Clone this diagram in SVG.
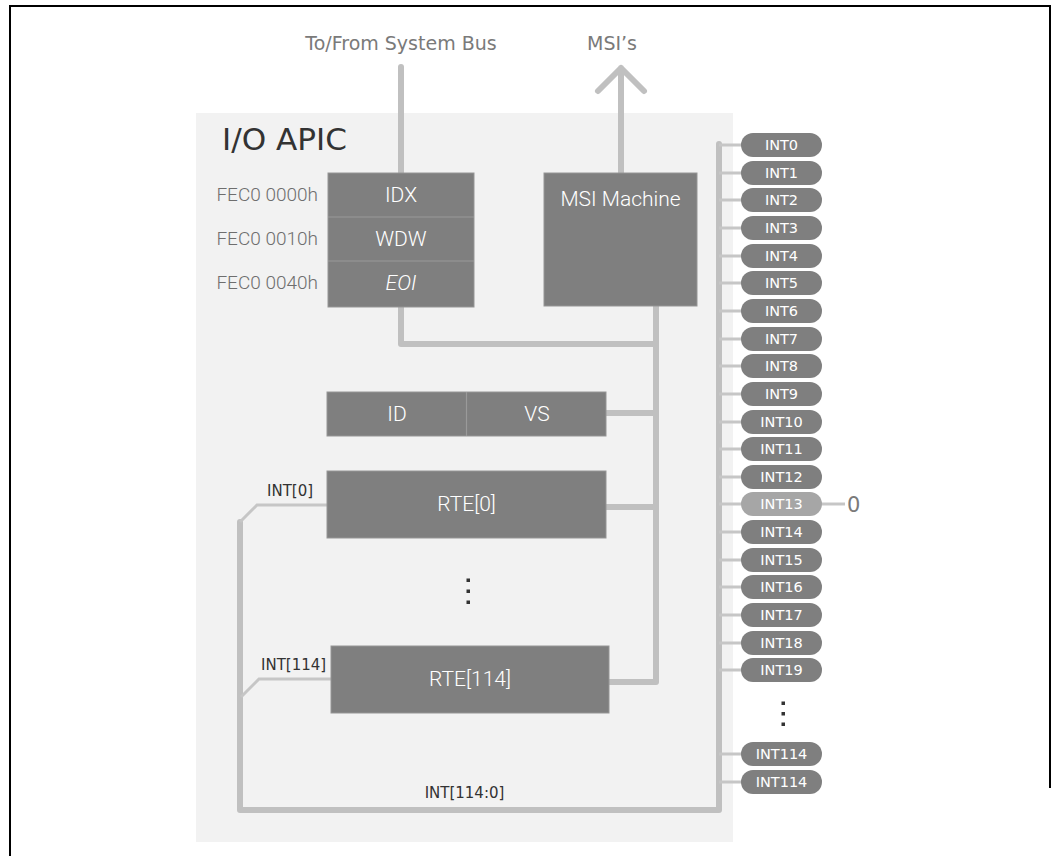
<svg xmlns="http://www.w3.org/2000/svg" width="1060" height="856" viewBox="0 0 1060 856">
<style>
.box{fill:#7f7f7f;stroke:#969696;stroke-width:1}
.sep{stroke:#9a9a9a;stroke-width:1.2}
.bt{font-family:Roboto,"Liberation Sans",sans-serif;font-weight:300;font-size:21px;fill:#ffffff;text-anchor:middle}
.addr{font-family:Roboto,"Liberation Sans",sans-serif;font-weight:300;font-size:19px;fill:#6e6e6e;text-anchor:end}
.lbl{font-family:"DejaVu Sans",Verdana,sans-serif;font-size:15px;fill:#333333}
.top{font-family:"DejaVu Sans",Verdana,sans-serif;font-size:19px;fill:#7a7a7a;text-anchor:middle}
.pill{fill:#7f7f7f}
.pt{font-family:"DejaVu Sans",Verdana,sans-serif;font-size:14.5px;fill:#ffffff;text-anchor:middle}
.thick{fill:none;stroke:#c0c0c0;stroke-width:6;stroke-linecap:round;stroke-linejoin:round}
.thin{fill:none;stroke:#c6c6c6;stroke-width:3}
.dot{fill:#333333}
</style>
<rect x="0" y="0" width="1060" height="856" fill="#ffffff"/>
<g id="frame" fill="none" stroke="#000000" stroke-width="2">
<path d="M10 856 V6 H1050 V788"/>
</g>
<rect id="panel" x="196" y="113" width="537" height="729" fill="#f2f2f2"/>
<text x="222" y="150" font-family="DejaVu Sans,Verdana,sans-serif" font-size="30" fill="#333333" textLength="125" lengthAdjust="spacingAndGlyphs">I/O APIC</text>
<text class="top" x="401" y="50">To/From System Bus</text>
<text class="top" x="612" y="50">MSI’s</text>

<g id="connectors">
<path class="thick" d="M401 67 V173"/>
<path class="thick" d="M621 173 V68 M598 91 L621 68 L644 91"/>
<path class="thick" d="M401 307 V344 H656"/>
<path class="thick" d="M656 306 V682 H609"/>
<path class="thick" d="M606 413 H656"/>
<path class="thick" d="M606 507 H656"/>
<path class="thick" d="M240 522 V810 H719 V144"/>
<path class="thin" d="M327 505 H257 L240 522"/>
<path class="thin" d="M331 679 H259 L241 697"/>
<path class="thin" d="M719 145 H742 M719 173 H742 M719 200 H742 M719 228 H742 M719 256 H742 M719 283 H742 M719 311 H742 M719 339 H742 M719 366 H742 M719 394 H742 M719 422 H742 M719 449 H742 M719 477 H742 M719 504 H742 M719 532 H742 M719 560 H742 M719 587 H742 M719 615 H742 M719 643 H742 M719 670 H742 M719 754 H742 M719 782 H742"/>
<path class="thin" d="M821 504 H845"/>
</g>

<g id="regs">
<rect class="box" x="328" y="173" width="146" height="134"/>
<line class="sep" x1="328" y1="217" x2="474" y2="217"/>
<line class="sep" x1="328" y1="261" x2="474" y2="261"/>
<text class="bt" x="401" y="202">IDX</text>
<text class="bt" x="401" y="246">WDW</text>
<text class="bt" x="401" y="290" font-style="italic">EOI</text>
<text class="addr" x="318" y="201">FEC0 0000h</text>
<text class="addr" x="318" y="245">FEC0 0010h</text>
<text class="addr" x="318" y="289">FEC0 0040h</text>
</g>

<g id="msi">
<rect class="box" x="544" y="173" width="153" height="133"/>
<text class="bt" x="620.5" y="206">MSI Machine</text>
</g>

<g id="idvs">
<rect class="box" x="327" y="392" width="279" height="44"/>
<line class="sep" x1="466.5" y1="392" x2="466.5" y2="436"/>
<text class="bt" x="397" y="421">ID</text>
<text class="bt" x="537" y="421">VS</text>
</g>

<g id="rte0">
<rect class="box" x="327" y="471" width="279" height="67"/>
<text class="bt" x="466.5" y="511">RTE[0]</text>
<text class="lbl" x="267" y="496">INT[0]</text>
</g>

<g id="rtedots">
<rect class="dot" x="466.5" y="578.5" width="3.5" height="3.5"/>
<rect class="dot" x="466.5" y="589.5" width="3.5" height="3.5"/>
<rect class="dot" x="466.5" y="600.5" width="3.5" height="3.5"/>
</g>

<g id="rte114">
<rect class="box" x="331" y="646" width="278" height="67"/>
<text class="bt" x="470" y="686">RTE[114]</text>
<text class="lbl" x="261" y="670">INT[114]</text>
</g>

<text id="buslabel" class="lbl" x="464.5" y="798" text-anchor="middle">INT[114:0]</text>

<g id="pins">
<g id="int0"><rect class="pill" x="741" y="133" width="81" height="24" rx="12"/><text class="pt" x="781.5" y="150">INT0</text></g>
<g id="int1"><rect class="pill" x="741" y="161" width="81" height="24" rx="12"/><text class="pt" x="781.5" y="178">INT1</text></g>
<g id="int2"><rect class="pill" x="741" y="188" width="81" height="24" rx="12"/><text class="pt" x="781.5" y="205">INT2</text></g>
<g id="int3"><rect class="pill" x="741" y="216" width="81" height="24" rx="12"/><text class="pt" x="781.5" y="233">INT3</text></g>
<g id="int4"><rect class="pill" x="741" y="244" width="81" height="24" rx="12"/><text class="pt" x="781.5" y="261">INT4</text></g>
<g id="int5"><rect class="pill" x="741" y="271" width="81" height="24" rx="12"/><text class="pt" x="781.5" y="288">INT5</text></g>
<g id="int6"><rect class="pill" x="741" y="299" width="81" height="24" rx="12"/><text class="pt" x="781.5" y="316">INT6</text></g>
<g id="int7"><rect class="pill" x="741" y="327" width="81" height="24" rx="12"/><text class="pt" x="781.5" y="344">INT7</text></g>
<g id="int8"><rect class="pill" x="741" y="354" width="81" height="24" rx="12"/><text class="pt" x="781.5" y="371">INT8</text></g>
<g id="int9"><rect class="pill" x="741" y="382" width="81" height="24" rx="12"/><text class="pt" x="781.5" y="399">INT9</text></g>
<g id="int10"><rect class="pill" x="741" y="410" width="81" height="24" rx="12"/><text class="pt" x="781.5" y="427">INT10</text></g>
<g id="int11"><rect class="pill" x="741" y="437" width="81" height="24" rx="12"/><text class="pt" x="781.5" y="454">INT11</text></g>
<g id="int12"><rect class="pill" x="741" y="465" width="81" height="24" rx="12"/><text class="pt" x="781.5" y="482">INT12</text></g>
<g id="int13"><rect x="741" y="492" width="81" height="24" rx="12" fill="#a6a6a6"/><text class="pt" x="781.5" y="509">INT13</text><text x="847" y="512" font-family="DejaVu Sans,Verdana,sans-serif" font-size="21" fill="#7a7a7a">0</text></g>
<g id="int14"><rect class="pill" x="741" y="520" width="81" height="24" rx="12"/><text class="pt" x="781.5" y="537">INT14</text></g>
<g id="int15"><rect class="pill" x="741" y="548" width="81" height="24" rx="12"/><text class="pt" x="781.5" y="565">INT15</text></g>
<g id="int16"><rect class="pill" x="741" y="575" width="81" height="24" rx="12"/><text class="pt" x="781.5" y="592">INT16</text></g>
<g id="int17"><rect class="pill" x="741" y="603" width="81" height="24" rx="12"/><text class="pt" x="781.5" y="620">INT17</text></g>
<g id="int18"><rect class="pill" x="741" y="631" width="81" height="24" rx="12"/><text class="pt" x="781.5" y="648">INT18</text></g>
<g id="int19"><rect class="pill" x="741" y="658" width="81" height="24" rx="12"/><text class="pt" x="781.5" y="675">INT19</text></g>
<g id="pindots">
<rect class="dot" x="781.5" y="701.5" width="3.5" height="3.5"/>
<rect class="dot" x="781.5" y="712" width="3.5" height="3.5"/>
<rect class="dot" x="781.5" y="722.5" width="3.5" height="3.5"/>
</g>
<g id="int114a"><rect class="pill" x="741" y="742" width="81" height="24" rx="12"/><text class="pt" x="781.5" y="759">INT114</text></g>
<g id="int114b"><rect class="pill" x="741" y="770" width="81" height="24" rx="12"/><text class="pt" x="781.5" y="787">INT114</text></g>
</g>
</svg>
